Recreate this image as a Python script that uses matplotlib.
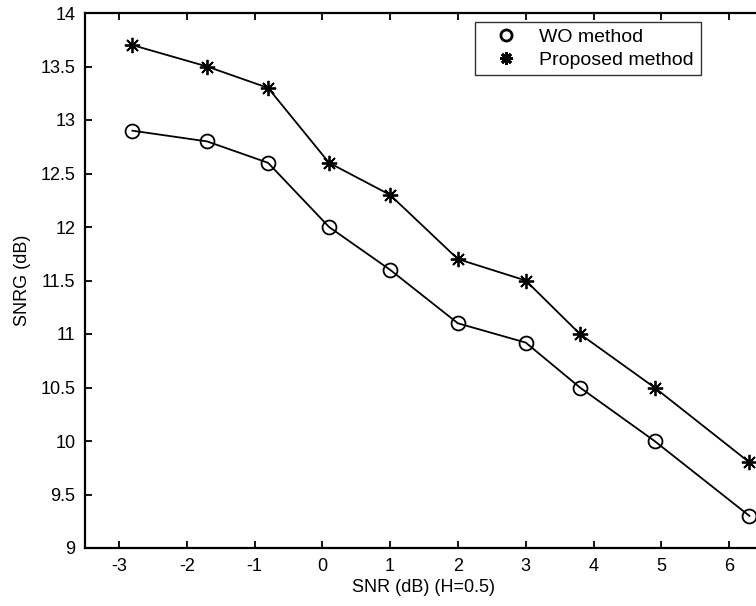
import numpy as np
import matplotlib.pyplot as plt
from matplotlib.lines import Line2D

plt.rcParams['font.family'] = ['Liberation Sans', 'DejaVu Sans']

snr = [-2.8, -1.7, -0.8, 0.1, 1.0, 2.0, 3.0, 3.8, 4.9, 6.3]
wo_method = [12.9, 12.8, 12.6, 12.0, 11.6, 11.1, 10.92, 10.5, 10.0, 9.3]
proposed = [13.7, 13.5, 13.3, 12.6, 12.3, 11.7, 11.5, 11.0, 10.5, 9.8]

xticks = [-3, -2, -1, 0, 1, 2, 3, 4, 5, 6]
yticks = [9, 9.5, 10, 10.5, 11, 11.5, 12, 12.5, 13, 13.5, 14]

fig = plt.figure(figsize=(7.56, 6.06), dpi=100)
ax = fig.add_axes([85 / 756, 58 / 606, 678 / 756, 535 / 606])

star = (8, 2, 0)
ax.plot(snr, wo_method, color='black', linewidth=1.3, marker='o', markersize=10,
        markerfacecolor='none', markeredgewidth=1.3)
ax.plot(snr, proposed, color='black', linewidth=1.3, marker=star, markersize=11,
        markeredgewidth=1.3)

ax.set_xlim(-3.5, 6.5)
ax.set_ylim(9, 14)
ax.set_xticks(xticks)
ax.set_xticklabels([str(t) for t in xticks])
ax.set_yticks(yticks)
ax.set_yticklabels([('%g' % t) for t in yticks])
ax.tick_params(direction='in', length=5, width=1.3, top=True, right=True,
               labelsize=13, pad=7)
for sp in ax.spines.values():
    sp.set_linewidth(1.6)

ax.set_xlabel('SNR (dB) (H=0.5)', fontsize=13, labelpad=3)
ax.set_ylabel('SNRG (dB)', fontsize=13, labelpad=7)

handles = [
    Line2D([], [], color='black', linestyle='none', marker='o', markersize=8,
           markerfacecolor='none', markeredgewidth=2),
    Line2D([], [], color='black', linestyle='none', marker=star, markersize=9,
           markeredgewidth=2),
]
leg = ax.legend(handles, ['WO method', 'Proposed method'], loc='upper left',
                bbox_to_anchor=(475 / 756, 1 - 21.7 / 606),
                bbox_transform=fig.transFigure, fontsize=14, frameon=True,
                fancybox=False, edgecolor='black', borderpad=0.35,
                handlelength=2.5, handletextpad=0.45, labelspacing=0.25,
                borderaxespad=0)
leg.get_frame().set_linewidth(1.0)

fig.savefig('out.png', dpi=100)
